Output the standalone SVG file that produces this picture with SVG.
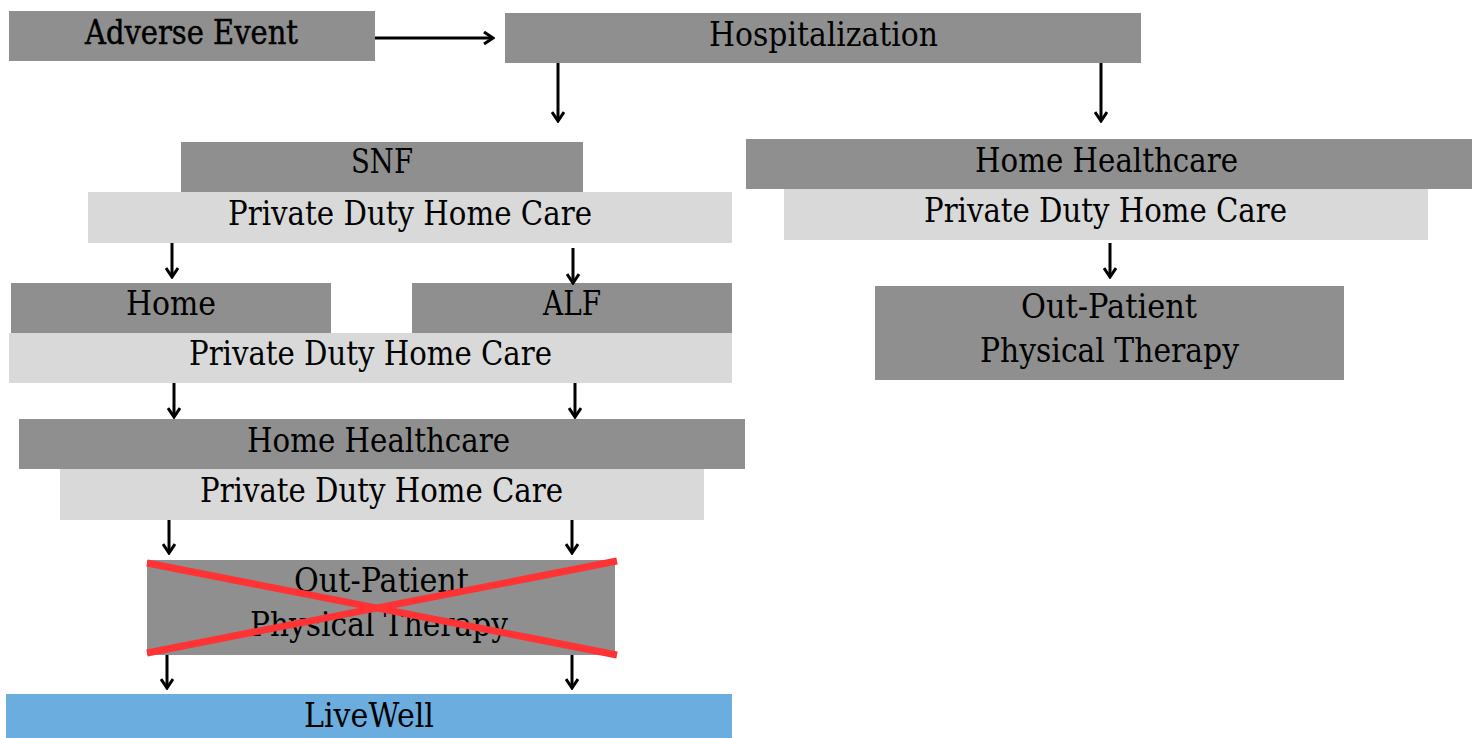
<svg xmlns="http://www.w3.org/2000/svg" width="1476" height="738" viewBox="0 0 1476 738">
  <style>
    .dark { fill: #8f8f8f; }
    .light { fill: #d9d9d9; }
    .blue { fill: #6caddf; }
    .lbl { font-family: "DejaVu Serif", "Liberation Serif", serif; font-size: 33px; fill: #000; text-anchor: middle; }
    .heavy { stroke: #000; stroke-width: 0.5; }
    .conn { stroke: #000; stroke-width: 3; fill: none; marker-end: url(#arrow); }
    .cross { stroke: #ff3333; stroke-width: 7; stroke-linecap: butt; }
  </style>
  <defs>
    <marker id="arrow" viewBox="0 0 12 14" refX="10" refY="7" markerWidth="12" markerHeight="14" markerUnits="userSpaceOnUse" orient="auto">
      <path d="M1,1 L10,7 L1,13" fill="none" stroke="#000" stroke-width="3"/>
    </marker>
  </defs>
  <rect width="1476" height="738" fill="#fff"/>

  <g id="adverse-event">
    <rect class="dark" x="9" y="11" width="366" height="50"/>
    <text class="lbl heavy" x="191.5" y="44" textLength="213" lengthAdjust="spacingAndGlyphs">Adverse Event</text>
  </g>

  <g id="hospitalization">
    <rect class="dark" x="505" y="13" width="636" height="50"/>
    <text class="lbl" x="823.5" y="46" textLength="229" lengthAdjust="spacingAndGlyphs">Hospitalization</text>
  </g>

  <!-- left branch: skilled nursing facility -->
  <g id="snf">
    <rect class="dark" x="181" y="142" width="402" height="50"/>
    <text class="lbl" x="382" y="173" textLength="62" lengthAdjust="spacingAndGlyphs">SNF</text>
  </g>
  <g id="pdhc-snf">
    <rect class="light" x="88" y="192" width="644" height="51"/>
    <text class="lbl" x="410" y="225" textLength="364" lengthAdjust="spacingAndGlyphs">Private Duty Home Care</text>
  </g>

  <g id="home">
    <rect class="dark" x="11" y="283" width="320" height="50"/>
    <text class="lbl" x="171" y="315" textLength="90" lengthAdjust="spacingAndGlyphs">Home</text>
  </g>
  <g id="alf">
    <rect class="dark" x="412" y="283" width="320" height="50"/>
    <text class="lbl" x="572" y="315" textLength="58" lengthAdjust="spacingAndGlyphs">ALF</text>
  </g>
  <g id="pdhc-home-alf">
    <rect class="light" x="9" y="333" width="723" height="50"/>
    <text class="lbl" x="370.5" y="365" textLength="363" lengthAdjust="spacingAndGlyphs">Private Duty Home Care</text>
  </g>

  <g id="home-healthcare-left">
    <rect class="dark" x="19" y="419" width="726" height="50"/>
    <text class="lbl" x="378.5" y="452" textLength="263" lengthAdjust="spacingAndGlyphs">Home Healthcare</text>
  </g>
  <g id="pdhc-hh-left">
    <rect class="light" x="60" y="469" width="644" height="51"/>
    <text class="lbl" x="381.5" y="502" textLength="363" lengthAdjust="spacingAndGlyphs">Private Duty Home Care</text>
  </g>

  <g id="outpatient-pt-left">
    <rect class="dark" x="147" y="560" width="468" height="95"/>
    <text class="lbl" x="381.5" y="592" textLength="175" lengthAdjust="spacingAndGlyphs">Out-Patient</text>
    <text class="lbl" x="379" y="636" textLength="258" lengthAdjust="spacingAndGlyphs">Physical Therapy</text>
    <line class="cross" x1="147" y1="563" x2="617" y2="655"/>
    <line class="cross" x1="147" y1="653" x2="617" y2="561"/>
  </g>

  <g id="livewell">
    <rect class="blue" x="6" y="694" width="726" height="44"/>
    <text class="lbl" x="369" y="727" textLength="130" lengthAdjust="spacingAndGlyphs">LiveWell</text>
  </g>

  <!-- right branch: home healthcare -->
  <g id="home-healthcare-right">
    <rect class="dark" x="746" y="139" width="726" height="50"/>
    <text class="lbl" x="1106.5" y="172" textLength="263" lengthAdjust="spacingAndGlyphs">Home Healthcare</text>
  </g>
  <g id="pdhc-hh-right">
    <rect class="light" x="784" y="189" width="644" height="51"/>
    <text class="lbl" x="1105.5" y="222" textLength="363" lengthAdjust="spacingAndGlyphs">Private Duty Home Care</text>
  </g>
  <g id="outpatient-pt-right">
    <rect class="dark" x="875" y="286" width="469" height="94"/>
    <text class="lbl" x="1109" y="318" textLength="176" lengthAdjust="spacingAndGlyphs">Out-Patient</text>
    <text class="lbl" x="1109.5" y="362" textLength="259" lengthAdjust="spacingAndGlyphs">Physical Therapy</text>
  </g>

  <g id="connectors">
    <line class="conn" x1="375" y1="38" x2="493" y2="38"/>
    <line class="conn" x1="558" y1="63" x2="558" y2="121"/>
    <line class="conn" x1="1101" y1="63" x2="1101" y2="121"/>
    <line class="conn" x1="1110" y1="243" x2="1110" y2="277"/>
    <line class="conn" x1="172" y1="243" x2="172" y2="277"/>
    <line class="conn" x1="573" y1="248" x2="573" y2="283"/>
    <line class="conn" x1="174" y1="383" x2="174" y2="417"/>
    <line class="conn" x1="575" y1="383" x2="575" y2="417"/>
    <line class="conn" x1="169" y1="520" x2="169" y2="553"/>
    <line class="conn" x1="572" y1="520" x2="572" y2="553"/>
    <line class="conn" x1="167" y1="655" x2="167" y2="688"/>
    <line class="conn" x1="572" y1="655" x2="572" y2="688"/>
  </g>
</svg>
